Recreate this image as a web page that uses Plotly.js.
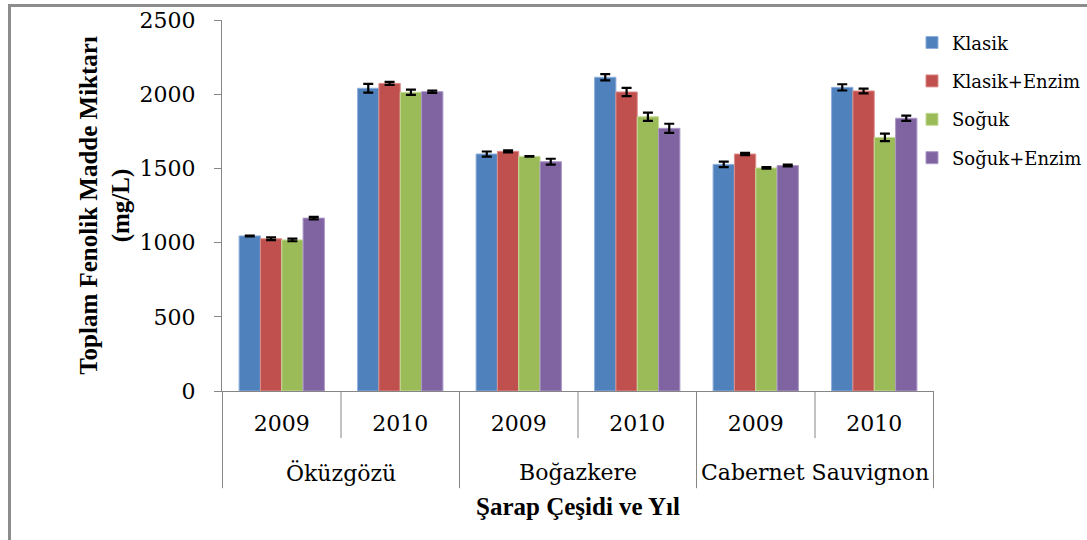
<!DOCTYPE html>
<html>
<head>
<meta charset="utf-8">
<script src="https://cdn.plot.ly/plotly-3.0.1.min.js"></script>
<style>
  html, body { margin: 0; padding: 0; background: #ffffff; overflow: hidden; }
  #chart { width: 1087px; height: 540px; position: absolute; left: 0; top: 0; }
  #frame {
    position: absolute; left: 8px; top: 4px; width: 1200px; height: 700px;
    border: 3px solid #8c8c8c; pointer-events: none;
  }
</style>
</head>
<body>
<div id="chart"></div>
<div id="frame"></div>
<script>
const varieties = ['Öküzgözü', 'Boğazkere', 'Cabernet Sauvignon'];
const years = ['2009', '2010'];
const methods = ['Klasik', 'Klasik+Enzim', 'Soğuk', 'Soğuk+Enzim'];
const colors = ['#4f81bd', '#c0504d', '#9bbb59', '#8064a2'];
const edgeColors = ['#8fb0dc', '#dc8f8d', '#c4dc98', '#ad98c8'];

// values per method, in order: Öküzgözü 2009, 2010, Boğazkere 2009, 2010, Cabernet 2009, 2010
const klasik = [1045, 2040, 1597, 2114, 1527, 2046];
const klasikEnzim = [1026, 2073, 1615, 2015, 1597, 2022];
const soguk = [1018, 2013, 1581, 1848, 1503, 1709];
const sogukEnzim = [1165, 2017, 1545, 1770, 1519, 1838];

const klasikErr = [3, 30, 17, 21, 18, 21];
const klasikEnzimErr = [9, 10, 7, 28, 8, 16];
const sogukErr = [9, 18, 2, 28, 5, 25];
const sogukEnzimErr = [9, 8, 20, 31, 6, 18];

const seriesValues = [klasik, klasikEnzim, soguk, sogukEnzim];
const seriesErrors = [klasikErr, klasikEnzimErr, sogukErr, sogukEnzimErr];

const categories = varieties.flatMap((v) => years.map((y) => `${v} ${y}`));
const yearLabels = varieties.flatMap(() => years);

const serif = 'DejaVu Serif';
const boldSerif = 'Liberation Serif';
const axisGrey = '#868686';

const data = methods.map((name, i) => ({
  type: 'bar',
  name: name,
  legendgroup: name,
  x: categories,
  y: seriesValues[i],
  marker: { color: colors[i], line: { color: edgeColors[i], width: 1 } },
  error_y: { type: 'data', array: seriesErrors[i], visible: true, color: '#000000', thickness: 2.2, width: 5 }
}));

// divider lines under the category axis, Excel style
const shapes = [];
for (let i = 0; i <= categories.length; i++) {
  const isGroupEdge = i % years.length === 0;
  shapes.push({
    type: 'line',
    xref: 'x',
    yref: 'paper',
    x0: i - 0.5,
    x1: i - 0.5,
    y0: 0,
    y1: isGroupEdge ? -0.262 : -0.127,
    line: { color: axisGrey, width: 1 }
  });
}

const annotations = varieties.map((v, i) => ({
  xref: 'x',
  yref: 'paper',
  x: i * years.length + (years.length - 1) / 2,
  y: -0.221,
  yanchor: 'middle',
  text: v,
  showarrow: false,
  font: { family: serif, size: 22, color: '#000000' }
}));

const layout = {
  width: 1087,
  height: 540,
  font: { family: serif, color: '#000000' },
  margin: { l: 222, r: 153, t: 20, b: 149, autoexpand: false },
  paper_bgcolor: '#ffffff',
  plot_bgcolor: '#ffffff',
  barmode: 'group',
  bargap: 0.28,
  bargroupgap: 0,
  showlegend: true,
  legend: {
    xref: 'container',
    yref: 'container',
    x: 0.839,
    xanchor: 'left',
    y: 0.955,
    yanchor: 'top',
    traceorder: 'grouped',
    tracegroupgap: 12,
    font: { family: serif, size: 18, color: '#000000' },
    bgcolor: 'rgba(0,0,0,0)'
  },
  xaxis: {
    type: 'category',
    categoryorder: 'array',
    categoryarray: categories,
    tickvals: categories,
    ticktext: yearLabels,
    ticks: '',
    showline: true,
    linecolor: axisGrey,
    linewidth: 1,
    showgrid: false,
    zeroline: false,
    ticklabelstandoff: 13,
    tickfont: { family: serif, size: 22, color: '#000000' },
    title: {
      text: '<b>Şarap Çeşidi ve Yıl</b>',
      standoff: 62,
      font: { family: boldSerif, size: 25, color: '#000000' }
    }
  },
  yaxis: {
    range: [0, 2500],
    dtick: 500,
    ticks: 'outside',
    ticklen: 7,
    tickcolor: axisGrey,
    showline: true,
    linecolor: axisGrey,
    linewidth: 1,
    showgrid: false,
    zeroline: false,
    ticklabelstandoff: 14,
    tickfont: { family: serif, size: 22, color: '#000000' },
    title: {
      text: '<b>Toplam Fenolik Madde Miktarı<br>(mg/L)</b>',
      standoff: 2,
      font: { family: boldSerif, size: 25, color: '#000000' }
    }
  },
  shapes: shapes,
  annotations: annotations
};

Plotly.newPlot('chart', data, layout, { displayModeBar: false, staticPlot: true });
</script>
</body>
</html>
